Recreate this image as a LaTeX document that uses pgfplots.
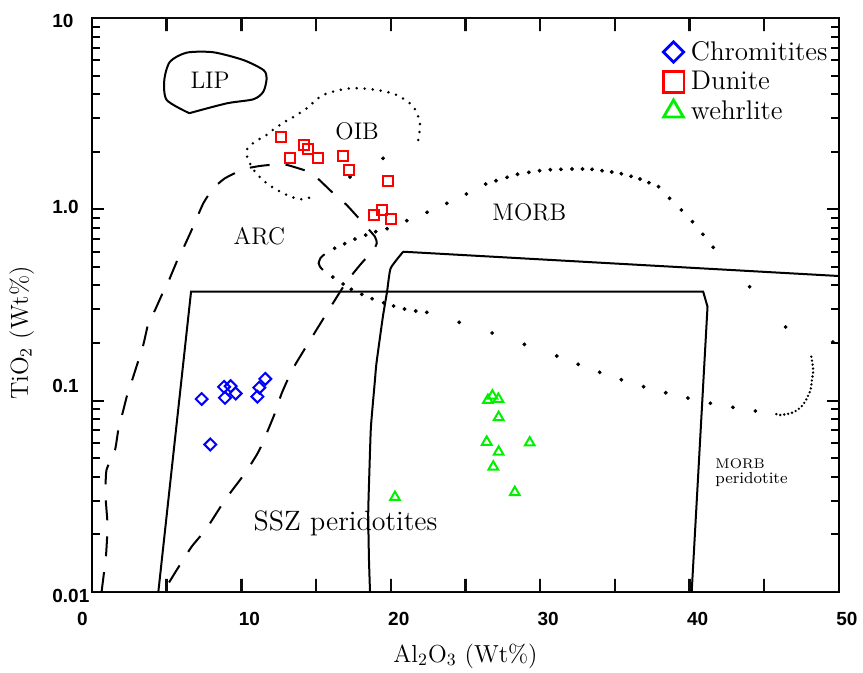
\documentclass[border=0pt]{standalone}
\usepackage{fontspec}
\setsansfont{Liberation Sans}
\usepackage{pgfplots}
\pgfplotsset{compat=1.18}
\definecolor{cblue}{RGB}{0,0,255}
\definecolor{cred}{RGB}{255,0,0}
\definecolor{cgreen}{RGB}{0,240,0}
\definecolor{tickc}{RGB}{12,12,12}
\begin{document}
\begin{tikzpicture}
\begin{axis}[
  scale only axis, width=373.5pt, height=287pt,
  xmin=0, xmax=50, ymin=0.01, ymax=10, ymode=log,
  axis line style={line width=1.2pt},
  every tick/.style={black, line width=1pt},
  tick align=inside,
  xtick pos=both, ytick pos=both,
  major tick length=6pt, minor tick length=4pt,
  xtick={0,10,20,30,40,50},
  xticklabels={\rlap{\hspace*{-8.75pt}0}\phantom{0},10,20,30,40,50},
  extra x ticks={5,15,25,35,45},
  extra x tick labels={},
  extra x tick style={tick style={tickc, line width=1.2pt}},
  ytick={0.01,0.1,1,10},
  yticklabels={\raisebox{-2pt}[\height][\depth]{0.01},\raisebox{7.2pt}[\height][\depth]{0.1},\raisebox{1.2pt}[\height][\depth]{1.0},\raisebox{-1.5pt}[\height][\depth]{10}},
  minor ytick={0.02,0.03,0.04,0.05,0.06,0.07,0.08,0.09,0.2,0.3,0.4,0.5,0.6,0.7,0.8,0.9,2,3,4,5,6,7,8,9},
  ticklabel style={font=\sffamily\bfseries\fontsize{9.5}{11}\selectfont},
  yticklabel style={anchor=west, inner sep=0pt, xshift=-20pt},
  xticklabel style={inner sep=0pt, yshift=-10pt, xshift=4pt},
  xlabel={Al\textsubscript{2}O\textsubscript{3} (Wt\%)},
  ylabel={TiO\textsubscript{2} (Wt\%)},
  label style={font=\fontsize{12.3}{14}\selectfont},
  xlabel style={at={(axis description cs:0.5,-0.1115)}, anchor=center},
  ylabel style={at={(axis description cs:-0.094,0.451)}, anchor=center},
  legend image code/.code={\draw[#1] plot coordinates {(0pt,0pt)};},
  legend style={draw=none, fill=none, at={(axis description cs:0.764,0.964)}, anchor=north west,
    font=\fontsize{13.5}{15}\selectfont, inner sep=0pt, row sep=2pt, column sep=2.5pt,
    nodes={inner sep=1pt, font=\fontsize{13.5}{15}\selectfont}},
  legend cell align=left,
]
% legend entries
\addlegendimage{mark=square, mark size=3.6pt, mark options={rotate=45, draw=cblue, line width=1.4pt}}
\addlegendentry{Chromitites}
\addlegendimage{mark=square, mark size=5.2pt, mark options={draw=cred, line width=1.4pt}}
\addlegendentry{Dunite}
\addlegendimage{mark=triangle, mark size=5.7pt, mark options={draw=cgreen, line width=1.4pt}}
\addlegendentry{wehrlite}

% x-axis tick marks every 5 units (bottom and top)
\addplot[tickc, line width=1.2pt, forget plot] coordinates {
(0,0.01) (5,0.01) (5,0.0117) (5,0.01) (10,0.01) (10,0.0117) (10,0.01) (15,0.01) (15,0.0117) (15,0.01)
(20,0.01) (20,0.0117) (20,0.01) (25,0.01) (25,0.0117) (25,0.01) (30,0.01) (30,0.0117) (30,0.01)
(35,0.01) (35,0.0117) (35,0.01) (40,0.01) (40,0.0117) (40,0.01) (45,0.01) (45,0.0117) (45,0.01) (50,0.01)};
\addplot[tickc, line width=1.2pt, forget plot] coordinates {
(0,10) (5,10) (5,8.55) (5,10) (10,10) (10,8.55) (10,10) (15,10) (15,8.55) (15,10)
(20,10) (20,8.55) (20,10) (25,10) (25,8.55) (25,10) (30,10) (30,8.55) (30,10)
(35,10) (35,8.55) (35,10) (40,10) (40,8.55) (40,10) (45,10) (45,8.55) (45,10) (50,10)};

% LIP field
\addplot[black, line width=1pt, smooth, tension=0.45, forget plot] coordinates {
(6.51,3.18) (5.0,3.73) (4.84,4.74) (5.22,5.91) (6.34,6.59) (8.12,6.62) (10.13,6.03)
(11.47,5.35) (11.69,4.84) (11.47,4.12) (10.8,3.76) (9.02,3.58) (6.51,3.18)};

% OIB field (dotted)
\addplot[black, line width=1.4pt, line cap=round, dash pattern=on 0pt off 4pt, smooth, tension=0.5, forget plot] coordinates {
(21.84,2.304) (21.95,2.817) (21.51,3.439) (20.39,3.959) (19.06,4.204) (17.27,4.291) (15.48,3.959)
(14.37,3.373) (13.59,3.074) (12.92,2.871) (12.25,2.651) (11.58,2.416) (10.91,2.257) (10.35,2.042)
(10.46,1.811) (10.91,1.573) (11.69,1.368) (12.80,1.213) (13.92,1.128) (14.93,1.174)};
\addplot[only marks, mark=*, mark size=0.75pt, black, forget plot] coordinates {(17.27,1.476) (19.48,1.848)};

% ARC field (dashed)
\addplot[black, line width=1pt, dash pattern=on 10pt off 8pt, smooth, tension=0.3, forget plot] coordinates {
(0.64,0.01) (0.74,0.01155) (0.94,0.01561) (1.04,0.02239) (0.90,0.03214) (0.97,0.0434) (1.54,0.05524)
(1.76,0.07025) (2.10,0.08939) (2.32,0.1045) (2.76,0.1334) (3.43,0.1953) (3.77,0.2537) (4.22,0.2977)
(4.77,0.3711) (5.11,0.4184) (5.67,0.5323) (6.11,0.6256) (6.67,0.7797) (7.45,1.075) (8.12,1.288)
(8.90,1.453) (10.13,1.619) (11.24,1.685) (12.70,1.725) (13.47,1.670) (14.71,1.543) (16.04,1.236)
(17.05,1.053) (18.16,0.8453) (18.94,0.7193) (19.06,0.6645) (18.83,0.6130) (17.94,0.5117) (16.82,0.3940)
(13.59,0.1536) (12.70,0.1093) (12.25,0.0862) (11.36,0.0586) (11.02,0.052) (10.24,0.04173)
(8.90,0.03026) (7.68,0.02153) (6.67,0.01725) (5.67,0.01303) (4.77,0.01)};

% SSZ peridotite field
\addplot[black, line width=1pt, forget plot] coordinates {
(4.44,0.01) (6.63,0.3711) (40.91,0.3711) (41.20,0.3098) (40.14,0.01)};

% MORB peridotite field
\addplot[black, line width=1pt, smooth, tension=0.3, forget plot] coordinates {
(18.61,0.01) (18.54,0.0147) (18.49,0.02588) (18.57,0.0434) (18.67,0.0729) (18.94,0.1282)
(19.04,0.1568) (19.47,0.2747) (19.75,0.3711) (19.99,0.4918) (20.83,0.6005)};
\addplot[black, line width=1pt, forget plot] coordinates {(20.83,0.6005) (49.99,0.4482)};

% MORB field (dots)
\addplot[black, line width=1pt, smooth, forget plot] coordinates {
(15.57,0.5821) (15.31,0.5587) (15.17,0.5224) (15.26,0.5013) (15.46,0.4818)};
\addplot[only marks, mark=*, mark size=0.75pt, black, forget plot] coordinates {
(16.24,0.6256) (16.91,0.6613) (17.60,0.6996) (18.32,0.7339) (18.99,0.7640) (19.75,0.7920)
(21.07,0.8720) (22.43,0.9649) (23.75,1.075) (25.06,1.203) (26.35,1.356) (27.04,1.411)
(27.78,1.470) (28.48,1.525) (29.24,1.561) (29.96,1.592) (30.68,1.611) (31.39,1.619)
(32.13,1.625) (32.83,1.625) (33.47,1.619) (34.14,1.592) (34.79,1.567) (35.43,1.535)
(36.08,1.488) (36.68,1.440) (37.28,1.378) (37.92,1.313) (38.66,1.142) (39.45,0.9920)
(40.19,0.8618) (40.89,0.7403) (41.58,0.6332) (44.02,0.3940) (46.43,0.2427) (49.59,0.2025)
(44.40,0.0883) (42.90,0.0923) (41.39,0.0969) (39.89,0.1032) (38.40,0.1100) (36.92,0.1183)
(35.43,0.1287) (33.98,0.1407) (32.54,0.1549) (31.11,0.1712) (28.94,0.1970) (26.78,0.2258)
(24.58,0.2568) (22.41,0.2895) (21.67,0.2941) (20.92,0.3013) (20.19,0.3124) (19.52,0.3251)
(18.75,0.3410) (18.06,0.3596) (17.36,0.3819) (16.81,0.4071) (16.12,0.4428)};
\addplot[black, line width=1.3pt, line cap=round, dash pattern=on 0pt off 2pt, smooth, forget plot] coordinates {
(48.15,0.1698) (48.27,0.1446) (48.19,0.1282) (48.09,0.1137) (47.79,0.1008) (47.48,0.0930)
(47.05,0.0878) (46.77,0.0859) (46.05,0.0841) (45.78,0.0852)};

% data
\addplot[only marks, mark=square, mark size=2.1pt, mark options={rotate=45, draw=cblue, line width=1pt}, forget plot] coordinates {
(7.34,0.102) (8.84,0.118) (9.28,0.119) (8.90,0.1035) (9.62,0.109) (11.6,0.130) (11.2,0.117) (11.07,0.105) (7.92,0.059)};
\addplot[only marks, mark=square, mark size=2.5pt, mark options={draw=cred, line width=1pt}, forget plot] coordinates {
(12.67,2.38) (13.23,1.86) (14.19,2.18) (14.48,2.07) (15.13,1.86) (16.78,1.91) (17.18,1.60)
(19.79,1.41) (18.87,0.937) (19.41,0.99) (20.01,0.889)};
\addplot[only marks, mark=triangle, mark size=2.8pt, mark options={draw=cgreen, line width=1pt}, forget plot] coordinates {
(26.5,0.1006) (26.8,0.106) (27.2,0.102) (27.22,0.0819) (26.42,0.0608) (27.22,0.054) (26.86,0.0451)
(29.3,0.0603) (28.3,0.0332) (20.28,0.0313)};

% field labels
\node[anchor=base west, inner sep=0pt, font=\fontsize{12}{14}\selectfont] at (axis cs:6.57,4.291) {LIP};
\node[anchor=base west, inner sep=0pt, font=\fontsize{12}{14}\selectfont] at (axis cs:16.27,2.304) {OIB};
\node[anchor=base west, inner sep=0pt, font=\fontsize{12}{14}\selectfont] at (axis cs:9.46,0.6588) {ARC};
\node[anchor=base west, inner sep=0pt, font=\fontsize{12}{14}\selectfont] at (axis cs:26.78,0.872) {MORB};
\node[anchor=base west, inner sep=0pt, font=\fontsize{14}{16}\selectfont] at (axis cs:10.80,0.02084) {SSZ peridotites};
\node[anchor=base west, inner sep=0pt, font=\fontsize{7}{8}\selectfont] at (axis cs:41.70,0.04446) {MORB};
\node[anchor=base west, inner sep=0pt, font=\fontsize{8}{9}\selectfont] at (axis cs:41.70,0.0367) {peridotite};
\end{axis}
\pgfresetboundingbox
\path[use as bounding box] (-46pt,-40.5pt) rectangle (385.5pt,296pt);
\end{tikzpicture}
\end{document}
